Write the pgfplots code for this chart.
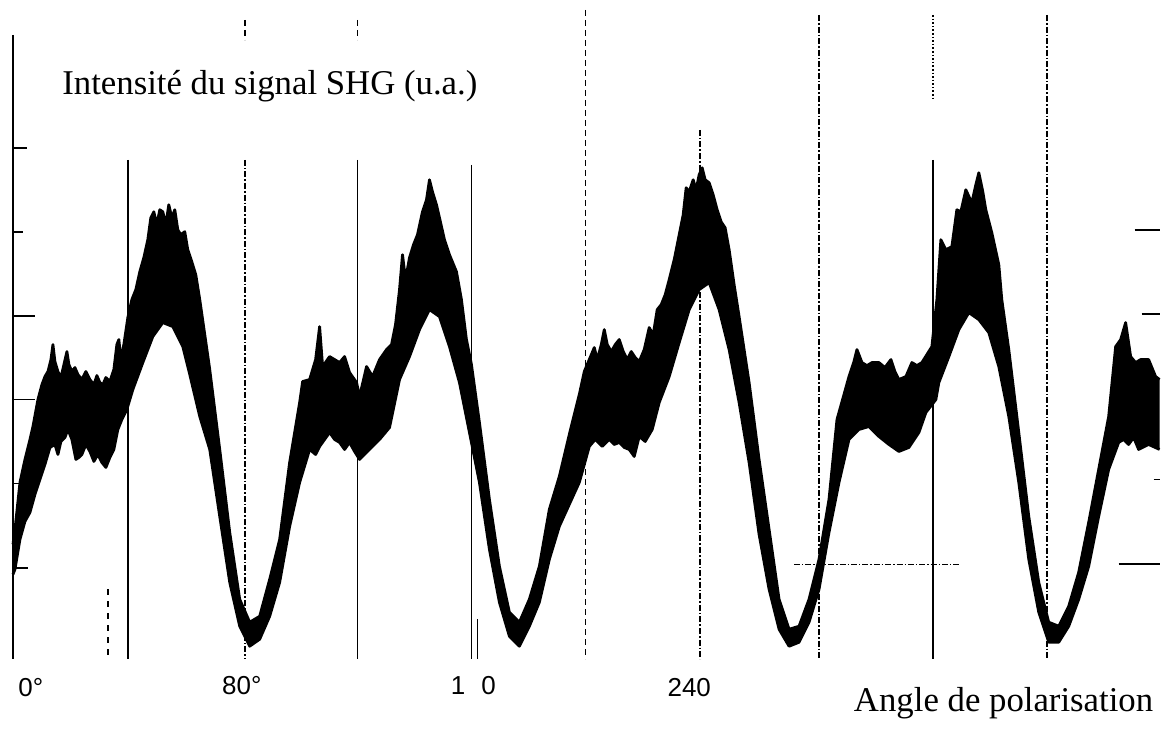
\documentclass[border=0pt]{standalone}
\usepackage{pgfplots}
\pgfplotsset{compat=1.18}
\usepackage{pgfplotstable}
\usepgfplotslibrary{fillbetween}
\usepackage{fontspec}
\setmainfont{Liberation Serif}
\newfontfamily\handfont{Liberation Sans}

% upper edge of the noisy trace (pixel coordinates, y downward)
\pgfplotstableread{
x y
13 545
15 530
20 483
25 460
30 440
33 427
38 400
42 385
45 377
48 372
51 360
53 345
55 362
58 372
61 378
64 365
67 352
69 365
72 372
75 368
78 375
82 380
86 372
90 380
94 385
97 376
100 383
103 385
106 378
110 382
114 370
117 345
119 340
121 360
124 345
128 318
132 300
136 290
140 272
144 258
148 240
151 218
154 212
157 225
160 210
163 212
166 225
169 205
172 218
175 210
178 230
181 235
185 232
188 250
192 262
196 275
200 300
205 335
210 370
220 450
230 533
240 600
250 623
260 617
270 580
280 540
290 463
300 403
303 382
310 380
316 360
320 327
323 367
330 357
340 363
345 357
350 373
357 383
360 397
367 367
373 377
380 360
387 350
392 345
396 325
400 290
403 255
406 280
410 258
414 245
418 235
423 212
427 200
430 180
433 192
437 205
440 218
445 240
450 255
457 272
462 300
467 340
472 365
480 423
490 500
500 567
510 613
520 623
530 600
540 567
550 510
560 477
570 435
580 395
585 372
590 360
595 348
598 360
602 345
605 330
608 345
612 352
616 345
620 340
624 352
628 360
632 352
636 358
640 362
645 350
650 328
654 335
658 310
662 305
666 295
670 280
675 260
680 235
684 215
687 188
690 192
694 180
697 190
700 175
703 168
706 180
710 183
714 195
718 210
722 222
726 228
730 250
735 285
740 317
750 383
760 460
770 530
780 600
790 630
800 627
810 600
820 560
830 500
838 420
845 395
850 377
855 362
858 350
863 363
868 366
873 363
880 363
886 368
892 360
896 372
900 380
907 377
913 363
918 366
923 363
928 355
933 347
938 300
942 240
947 250
953 247
958 210
962 212
967 190
973 203
977 185
980 173
984 192
987 210
993 233
1000 265
1003 300
1010 350
1020 433
1030 517
1040 583
1050 623
1060 627
1070 607
1080 573
1090 523
1100 470
1110 417
1117 347
1122 340
1127 323
1132 357
1137 363
1142 360
1150 360
1157 377
1161 380
}\upperdata

% lower edge of the noisy trace
\pgfplotstableread{
x y
13 575
15 570
20 540
25 522
30 513
35 495
40 480
45 465
50 448
55 445
58 455
61 442
65 438
68 430
72 440
76 460
79 458
82 455
86 445
90 452
94 462
98 455
102 463
106 468
110 458
114 450
118 430
122 420
127 410
133 390
143 363
153 337
163 323
173 327
183 347
190 375
200 417
210 450
220 517
230 583
240 627
250 647
260 640
270 617
280 583
290 527
300 483
310 450
316 455
320 447
325 440
330 433
335 440
340 443
345 450
350 443
355 452
360 460
365 455
370 450
375 445
380 440
390 428
400 380
410 357
420 330
430 310
440 317
450 347
460 383
470 433
480 483
490 550
500 603
510 637
520 647
530 627
540 603
550 560
560 527
570 505
580 483
590 447
596 440
603 447
610 440
615 445
620 443
625 448
630 450
635 457
640 437
646 442
653 430
660 403
670 377
680 343
690 310
700 290
710 283
720 310
730 350
740 403
750 463
760 535
770 590
780 630
790 647
800 643
810 623
820 590
830 533
840 483
850 440
860 430
870 427
880 437
890 445
900 452
910 448
920 433
927 413
937 400
940 383
950 357
960 330
970 313
980 320
990 333
1000 367
1010 417
1020 483
1030 560
1040 613
1050 643
1060 643
1070 627
1080 600
1090 567
1100 517
1110 470
1120 443
1125 440
1130 445
1135 438
1140 450
1150 445
1161 450
}\lowerdata

\begin{document}
\begin{tikzpicture}
\begin{axis}[
  width=580.5pt, height=365pt, scale only axis,
  xmin=0, xmax=1161, ymin=0, ymax=730, y dir=reverse,
  axis lines=none, clip=false,
]
% frame of the picture (invisible, fixes the bounding box)
\addplot[draw=none] coordinates {(0,0) (1161,730)};
% vertical guide lines of the recorder paper
\addplot[black, line width=0.9pt] coordinates {(13,35) (13,660)};
\addplot[black, line width=0.9pt, dashed] coordinates {(108,590) (108,660)};
\addplot[black, line width=0.9pt] coordinates {(128,160) (128,660)};
\addplot[black, line width=0.8pt, densely dashdotted] coordinates {(245,160) (245,660)};
\addplot[black, line width=0.8pt, densely dashed] coordinates {(245,20) (245,40)};
\addplot[black, line width=0.9pt] coordinates {(358,160) (358,660)};
\addplot[black, line width=0.9pt, densely dashed] coordinates {(358,20) (358,40)};
\addplot[black, line width=0.9pt] coordinates {(472,165) (472,660)};
\addplot[black, line width=0.9pt] coordinates {(478,620) (478,660)};
\addplot[black, line width=0.8pt, densely dashed] coordinates {(586,10) (586,660)};
\addplot[black, line width=0.8pt, densely dashdotted] coordinates {(701,130) (701,660)};
\addplot[black, line width=0.8pt, densely dashdotted] coordinates {(820,15) (820,660)};
\addplot[black, line width=0.8pt, densely dotted] coordinates {(934,15) (934,100)};
\addplot[black, line width=0.9pt] coordinates {(934,160) (934,660)};
\addplot[black, line width=0.8pt, densely dashdotted] coordinates {(1048,15) (1048,660)};
\addplot[black, line width=0.7pt, densely dashdotted] coordinates {(795,565) (960,565)};
% left ticks
\addplot[black, line width=0.9pt] coordinates {(13,148) (27,148)};
\addplot[black, line width=0.9pt] coordinates {(13,232) (23,232)};
\addplot[black, line width=0.9pt] coordinates {(13,316) (35,316)};
\addplot[black, line width=0.9pt] coordinates {(13,400) (35,400)};
\addplot[black, line width=0.9pt] coordinates {(13,484) (40,484)};
\addplot[black, line width=0.9pt] coordinates {(13,569) (28,569)};
% right ticks
\addplot[black, line width=0.9pt] coordinates {(1136,230) (1161,230)};
\addplot[black, line width=0.9pt] coordinates {(1143,314) (1161,314)};
\addplot[black, line width=0.9pt] coordinates {(1155,480) (1161,480)};
\addplot[black, line width=0.9pt] coordinates {(1120,565) (1161,565)};
% trace
\addplot[name path=U, black, line width=1.4pt, line join=round] table {\upperdata};
\addplot[name path=L, black, line width=1.4pt, line join=round] table {\lowerdata};
\addplot[black] fill between[of=U and L];
% texts
\node[anchor=base west, font=\fontsize{17.4}{20}\selectfont, inner sep=0pt] at (axis cs:62,95) {Intensité du signal SHG (u.a.)};
\node[anchor=base east, font=\fontsize{17.4}{20}\selectfont, inner sep=0pt] at (axis cs:1155,712) {Angle de polarisation};
\node[anchor=base west, font=\handfont\fontsize{13}{14}\selectfont, inner sep=0pt] at (axis cs:18,697) {0°};
\node[anchor=base west, font=\handfont\fontsize{13}{14}\selectfont, inner sep=0pt] at (axis cs:222,695) {80°};
\node[anchor=base west, font=\handfont\fontsize{13}{14}\selectfont, inner sep=0pt] at (axis cs:451,695) {1\hspace{8pt}0};
\node[anchor=base west, font=\handfont\fontsize{13}{14}\selectfont, inner sep=0pt] at (axis cs:668,697) {240};
\end{axis}
\end{tikzpicture}
\end{document}
